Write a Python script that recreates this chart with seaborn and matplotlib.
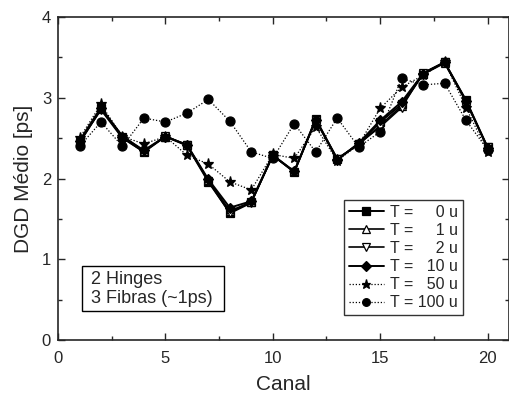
import matplotlib
matplotlib.use("Agg")
import matplotlib.pyplot as plt
from matplotlib.patches import Rectangle
from matplotlib.ticker import MultipleLocator
import seaborn as sns
import pandas as pd

sns.set_style("ticks")
plt.rcParams["font.family"] = ["Liberation Sans", "DejaVu Sans"]

# data
canal = list(range(1, 21))
t0 = [2.45, 2.87, 2.51, 2.33, 2.52, 2.41, 1.96, 1.58, 1.71, 2.29,
      2.08, 2.74, 2.24, 2.43, 2.70, 2.92, 3.30, 3.44, 2.97, 2.39]
t1 = [2.44, 2.86, 2.53, 2.34, 2.52, 2.42, 1.98, 1.60, 1.71, 2.28,
      2.09, 2.73, 2.25, 2.42, 2.66, 2.90, 3.29, 3.43, 2.96, 2.38]
t2 = [2.46, 2.85, 2.50, 2.33, 2.53, 2.41, 1.97, 1.57, 1.70, 2.29,
      2.08, 2.72, 2.24, 2.43, 2.64, 2.88, 3.31, 3.44, 2.95, 2.39]
t10 = [2.47, 2.88, 2.52, 2.35, 2.52, 2.42, 1.99, 1.64, 1.72, 2.29,
       2.09, 2.73, 2.23, 2.44, 2.72, 2.95, 3.30, 3.44, 2.96, 2.38]
t50 = [2.50, 2.92, 2.52, 2.43, 2.52, 2.29, 2.18, 1.96, 1.86, 2.30,
       2.25, 2.64, 2.22, 2.42, 2.87, 3.13, 3.28, 3.44, 2.88, 2.33]
t100 = [2.40, 2.70, 2.40, 2.75, 2.70, 2.81, 2.98, 2.71, 2.33, 2.25,
        2.68, 2.33, 2.75, 2.39, 2.58, 3.24, 3.16, 3.18, 2.72, 2.36]

labels = ["T =     0 u", "T =     1 u", "T =     2 u",
          "T =   10 u", "T =   50 u", "T = 100 u"]
series = [t0, t1, t2, t10, t50, t100]
markers = ["s", "^", "v", "D", "*", "o"]
filled = [True, False, False, True, True, True]
styles = ["-", "-", "-", "-", (0, (1, 1.5)), (0, (1, 1.5))]
widths = [1.4, 1.2, 1.2, 1.4, 0.9, 0.9]
sizes = [6, 6, 6, 5.5, 8, 6.5]

fig = plt.figure(figsize=(5.09, 3.96), dpi=100)
ax = fig.add_axes([0.114, 0.141, 0.886, 0.816])

for vals, lab, m, f, ls, lw, ms in zip(series, labels, markers, filled,
                                        styles, widths, sizes):
    df = pd.DataFrame({"canal": canal, "dgd": vals})
    sns.lineplot(data=df, x="canal", y="dgd", ax=ax, color="black",
                 marker=m, markersize=ms, markeredgecolor="black",
                 markeredgewidth=0.9, markerfacecolor="black" if f else "white",
                 linestyle=ls, linewidth=lw, label=lab)

ax.set_xlim(0, 21)
ax.set_ylim(0, 4)
ax.xaxis.set_major_locator(MultipleLocator(5))
ax.xaxis.set_minor_locator(MultipleLocator(2.5))
ax.yaxis.set_major_locator(MultipleLocator(1))
ax.yaxis.set_minor_locator(MultipleLocator(0.5))
ax.tick_params(which="both", direction="in", top=True, right=True,
               labelsize=12, width=1, pad=5)
ax.tick_params(axis="x", which="both", pad=8)
ax.tick_params(which="major", length=5)
ax.tick_params(which="minor", length=3)
for s in ax.spines.values():
    s.set_linewidth(1.2)
    s.set_visible(True)

ax.set_xlabel("Canal", fontsize=15, labelpad=6)
ax.set_ylabel("DGD Médio [ps]", fontsize=15, labelpad=6)

leg = ax.legend(loc="lower right", bbox_to_anchor=(0.898, 0.077),
                borderaxespad=0, fontsize=11.5, frameon=True, fancybox=False,
                edgecolor="black", handlelength=2.2, handletextpad=0.4,
                labelspacing=0.2, borderpad=0.3, markerscale=0.85)
leg.get_frame().set_linewidth(1)

# annotation box
ax.add_patch(Rectangle((0.053, 0.090), 0.315, 0.139, transform=ax.transAxes,
                       facecolor="white", edgecolor="black", linewidth=1,
                       zorder=4))
ax.text(0.073, 0.159, "2 Hinges\n3 Fibras (~1ps)", transform=ax.transAxes,
        fontsize=13, ha="left", va="center", linespacing=1.15, zorder=5)

fig.savefig("out.png", dpi=100)
